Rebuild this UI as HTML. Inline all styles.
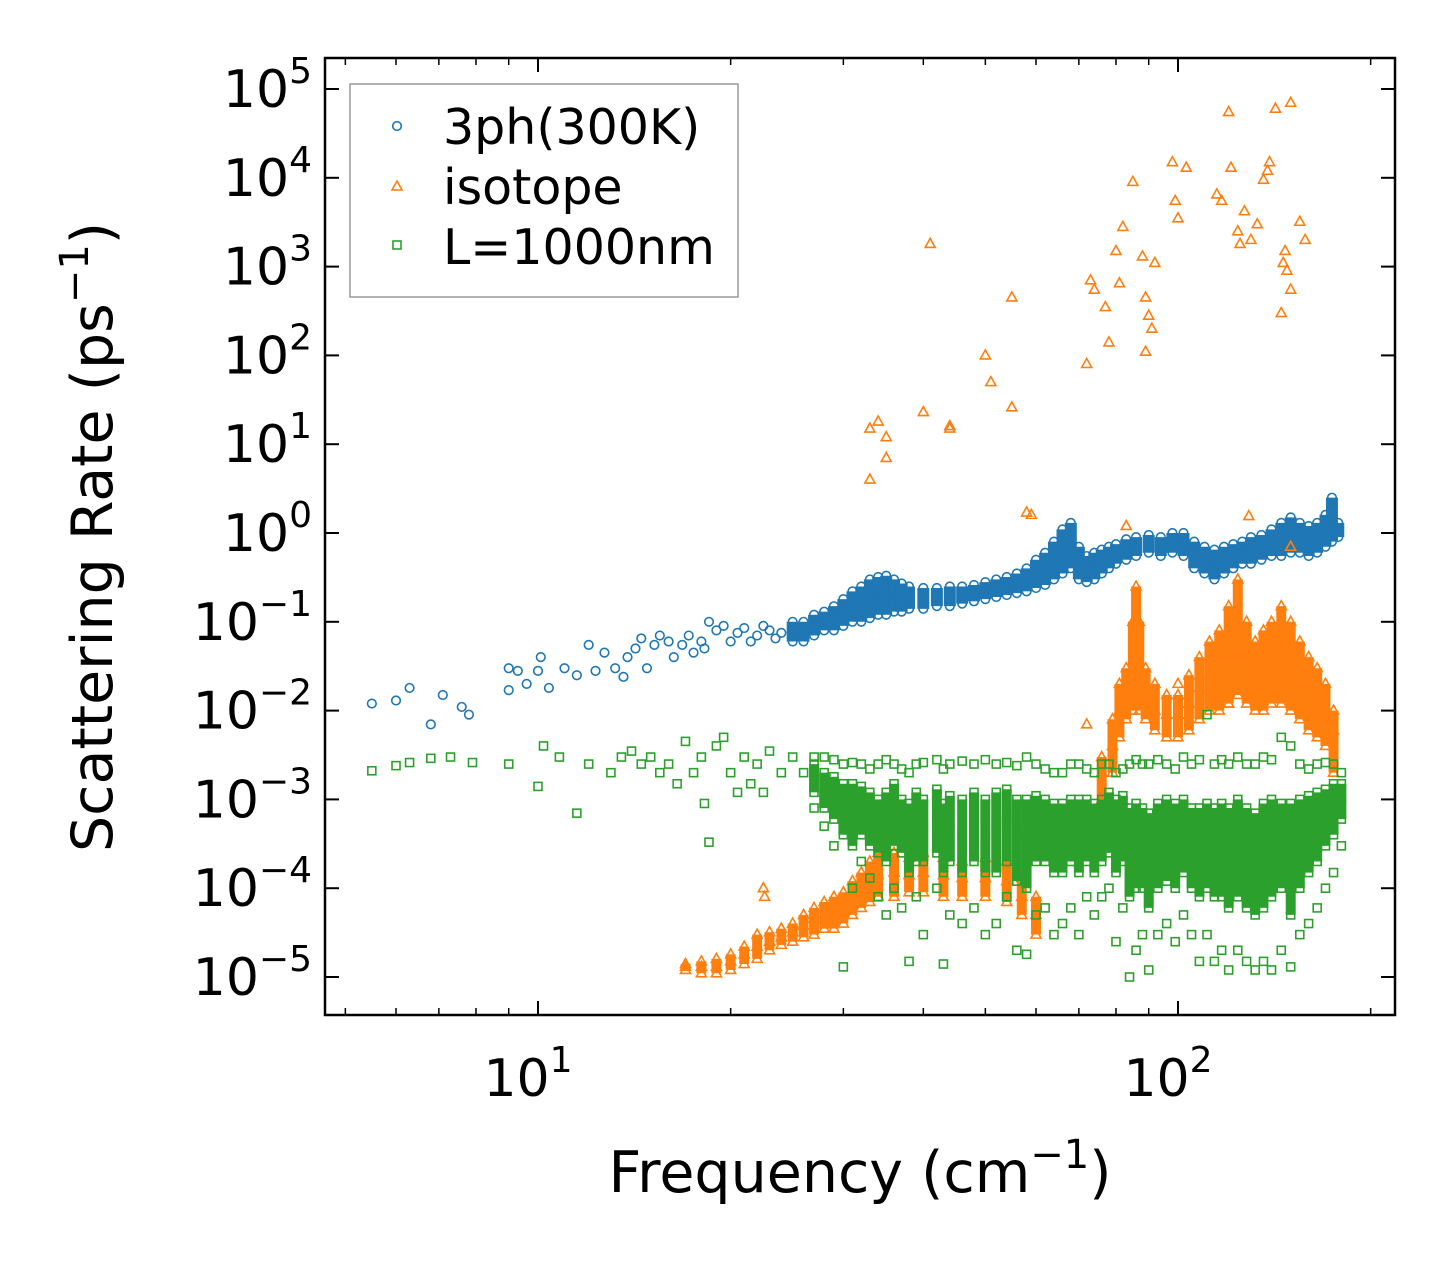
<!DOCTYPE html>
<html><head><meta charset="utf-8"><style>
html,body{margin:0;padding:0;background:#fff;}
svg text{font-family:"DejaVu Sans","Liberation Sans",sans-serif;fill:#000;}
</style></head><body>
<svg id="chart" width="1455" height="1265" viewBox="0 0 1455 1265" xmlns="http://www.w3.org/2000/svg">
<rect width="1455" height="1265" fill="#fff"/>
<g id="marks"></g>
<g id="axes"></g>
</svg>
<script>
// ---- data ----
const blueFreq = [5.5,6,6.3,6.8,7.1,7.6,7.8,9,9,9.3,9.6,10,10.1,10.4,11,11.5,12,12.3,12.7,13.2,13.6,13.8,14.2,14.5,14.8,15.2,15.5,16,16.3,16.8,17.2,17.5,18,18.2,18.5,19,19.5,20,20.5,21,21.5,22,22.5,23,23.5,24];
const blueRate = [.012,.013,.018,.007,.015,.011,.009,.03,.017,.028,.02,.028,.04,.018,.03,.025,.055,.028,.045,.03,.024,.04,.05,.065,.03,.055,.07,.06,.04,.055,.07,.045,.06,.05,.1,.08,.09,.06,.075,.085,.06,.07,.09,.08,.065,.075];
const blueBand = [[25,.06,.08,.1],[26,.06,.08,.1],[27,.07,.09,.12],[28,.08,.1,.13],[29,.08,.11,.15],[30,.09,.13,.18],[31,.1,.15,.22],[32,.1,.17,.25],[33,.11,.18,.3],[34,.12,.2,.32],[35,.12,.2,.33],[36,.13,.2,.3],[37,.13,.19,.27],[38,.14,.18,.25],[40,.14,.18,.24],[42,.15,.19,.24],[44,.15,.2,.25],[46,.16,.2,.25],[48,.17,.21,.26],[50,.18,.22,.28],[52,.19,.24,.3],[54,.2,.26,.32],[56,.21,.28,.35],[58,.22,.3,.4],[60,.24,.35,.5],[62,.26,.4,.6],[64,.3,.5,.8],[66,.35,.6,1.1],[68,.4,.7,1.3],[70,.3,.45,.7],[72,.28,.4,.55],[74,.3,.45,.6],[76,.35,.5,.65],[78,.4,.55,.7],[80,.45,.6,.75],[83,.5,.65,.85],[86,.55,.7,.9],[90,.6,.75,.95],[94,.55,.75,.9],[98,.6,.8,1.0],[102,.55,.75,1.0],[106,.4,.6,.8],[110,.35,.5,.7],[114,.3,.45,.65],[118,.35,.5,.7],[122,.4,.55,.75],[126,.45,.6,.8],[130,.45,.65,.9],[135,.5,.7,.95],[140,.55,.8,1.1],[145,.55,.9,1.3],[150,.6,1.0,1.5],[155,.6,.9,1.3],[160,.55,.8,1.2],[165,.6,.9,1.3],[170,.7,1.0,1.6],[174,.8,1.3,2.5],[178,.9,1.1,1.3]];

const orangeFreq = [33,33,34,35,35,40,41,44,44,50,51,55,55,58,59,72,73,74,77,78,80,81,82,83,85,88,89,89,90,91,92,98,99,100,103,115,117,120,121,124,125,127,130,133,136,138,139,142,145,146,147,148,150,150,155,158,129,150,72,22.5,22.6,100,120];
const orangeRate = [4,15,18,12,7,23,1800,15,16,100,50,450,26,1.7,1.6,80,700,550,350,140,1500,650,2800,1.2,9000,1300,450,110,280,200,1100,15000,5500,3500,13000,6500,5500,55000,13000,2500,1800,4200,2000,3000,9500,12000,15000,60000,300,1100,1500,900,70000,550,3200,2000,1.55,0.7,0.007,1e-4,8e-5,0.02,0.012];
const orangeBand = [[17,1.2e-5,1.3e-5,1.4e-5],[18,1.1e-5,1.3e-5,1.5e-5],[19,1.1e-5,1.3e-5,1.6e-5],[20,1.2e-5,1.5e-5,1.8e-5],[21,1.4e-5,1.8e-5,2.2e-5],[22,1.6e-5,2.2e-5,3e-5],[23,2e-5,2.5e-5,3.2e-5],[24,2.3e-5,2.8e-5,3.5e-5],[25,2.5e-5,3.2e-5,4e-5],[26,2.8e-5,3.8e-5,5e-5],[27,3e-5,4.5e-5,6e-5],[28,3.5e-5,5e-5,7e-5],[29,3.5e-5,5.5e-5,8e-5],[30,4e-5,6e-5,9e-5],[31,5e-5,8e-5,1.2e-4],[32,6e-5,1e-4,1.5e-4],[33,7e-5,1.2e-4,2e-4],[34,8e-5,1.4e-4,2.5e-4],[36,8e-5,1.5e-4,2.5e-4],[38,9e-5,1.4e-4,2.2e-4],[40,9e-5,1.5e-4,2.5e-4],[43,8e-5,1.4e-4,2.2e-4],[46,8e-5,1.3e-4,2e-4],[50,8e-5,1.3e-4,2.2e-4],[54,7e-5,1.2e-4,2e-4],[57,5e-5,8e-5,1.3e-4],[60,3e-5,5e-5,8e-5],
[76,1e-3,2e-3,3e-3],[79,2e-3,4e-3,8e-3],[81,5e-3,1e-2,2e-2],[83,8e-3,1.5e-2,3e-2],[85,1e-2,3e-2,1e-1],[86,1.5e-2,6e-2,2.5e-1],[87,1e-2,3e-2,1e-1],[89,8e-3,1.5e-2,3e-2],[92,6e-3,1e-2,2e-2],[96,5e-3,9e-3,1.5e-2],[100,5e-3,9e-3,1.5e-2],[104,6e-3,1.2e-2,2.5e-2],[108,8e-3,1.8e-2,4e-2],[112,1e-2,2.5e-2,6e-2],[116,1e-2,3e-2,8e-2],[120,1.2e-2,4e-2,1.5e-1],[124,1.5e-2,5e-2,3e-1],[128,1.2e-2,4e-2,1e-1],[132,1e-2,3e-2,6e-2],[136,1e-2,3.5e-2,8e-2],[140,1.2e-2,4e-2,1e-1],[145,1.2e-2,5e-2,1.5e-1],[150,1e-2,4e-2,1e-1],[155,8e-3,3e-2,6e-2],[160,6e-3,2e-2,4e-2],[165,5e-3,1.5e-2,3e-2],[170,4e-3,1e-2,2e-2],[175,2e-3,6e-3,1e-2]];

const greenFreq = [5.5,6,6.3,6.8,7.3,7.9,9,10.2,10,10.8,11.5,12,13,13.5,14,14.5,15,15.5,16,16.5,17,17.5,18,18.2,18.5,19,19.5,20,20.5,21,21.5,22,22.5,23,24,25,26];
const greenRate = [2.1e-3,2.4e-3,2.6e-3,2.9e-3,3e-3,2.6e-3,2.5e-3,4e-3,1.4e-3,3e-3,7e-4,2.5e-3,2e-3,3e-3,3.5e-3,2.5e-3,3e-3,2e-3,2.5e-3,1.5e-3,4.5e-3,2e-3,3e-3,9e-4,3.3e-4,4e-3,5e-3,2e-3,1.2e-3,3e-3,1.5e-3,2.5e-3,1.2e-3,3.5e-3,2e-3,3e-3,2e-3];
const greenBand = [[27,8e-4,1.2e-3,1.8e-3,2.5e-3,3e-3],[28,5e-4,8e-4,1.2e-3,2e-3,3e-3],[29,3e-4,6e-4,1e-3,1.8e-3,2.8e-3],[30,1.3e-5,4e-4,8e-4,1.5e-3,2.5e-3],[31,1e-4,3e-4,7e-4,1.5e-3,2.6e-3],[32,2e-4,4e-4,8e-4,1.4e-3,2.5e-3],[33,1.3e-4,3e-4,6e-4,1.2e-3,2.2e-3],[34,8e-5,2.5e-4,5e-4,1e-3,2.5e-3],[35,5e-5,2e-4,6e-4,1.2e-3,2.8e-3],[36,1e-4,3e-4,7e-4,1.5e-3,2.5e-3],[37,6e-5,2.5e-4,5e-4,1e-3,2.2e-3],[38,1.5e-5,1.5e-4,4e-4,9e-4,2e-3],[39,8e-5,2e-4,6e-4,1.2e-3,2.5e-3],[40,3e-5,2e-4,5e-4,1e-3,2.6e-3],[42,1e-4,2.5e-4,6e-4,1.3e-3,2.8e-3],[43,1.4e-5,1.5e-4,4e-4,9e-4,2.2e-3],[44,5e-5,2e-4,5e-4,1.1e-3,2.5e-3],[46,4e-5,1.5e-4,4e-4,1e-3,2.7e-3],[48,6e-5,2e-4,5e-4,1.2e-3,2.5e-3],[50,3e-5,1.5e-4,4e-4,1e-3,2.8e-3],[52,4e-5,1.5e-4,5e-4,1.2e-3,2.5e-3],[54,8e-5,2e-4,6e-4,1.3e-3,2.6e-3],[56,2e-5,1.2e-4,4e-4,1e-3,2.4e-3],[58,1.8e-5,1e-4,4e-4,1e-3,3e-3],[60,5e-5,2e-4,5e-4,1.1e-3,2.5e-3],[62,6e-5,2e-4,5e-4,1e-3,2.2e-3],[64,3e-5,1.5e-4,4e-4,9e-4,2e-3],[66,4e-5,1.5e-4,4e-4,9e-4,2e-3],[68,6e-5,2e-4,5e-4,1e-3,2.5e-3],[70,3e-5,1.5e-4,4e-4,1e-3,2.5e-3],[72,8e-5,2e-4,5e-4,1e-3,2.2e-3],[74,5e-5,1.5e-4,4e-4,9e-4,2e-3],[76,8e-5,2e-4,5e-4,1e-3,2.5e-3],[78,1e-4,2.5e-4,6e-4,1.2e-3,2.5e-3],[80,2.5e-5,1.5e-4,4e-4,1e-3,2e-3],[82,6e-5,2e-4,5e-4,1.1e-3,2.2e-3],[84,1e-5,8e-5,3e-4,8e-4,2.5e-3],[86,2e-5,1e-4,3e-4,9e-4,2.8e-3],[88,3e-5,1e-4,3e-4,8e-4,2.5e-3],[90,1.2e-5,6e-5,2.5e-4,7e-4,2.5e-3],[93,3e-5,1e-4,3e-4,9e-4,2.8e-3],[96,4e-5,1.2e-4,4e-4,1e-3,2.5e-3],[99,2.5e-5,1e-4,3e-4,9e-4,2.2e-3],[102,5e-5,1.5e-4,4e-4,1e-3,3e-3],[105,3e-5,1e-4,3e-4,8e-4,2.5e-3],[108,1.5e-5,8e-5,3e-4,8e-4,2.8e-3],[111,3e-5,1e-4,3e-4,9e-4,9e-3],[114,1.5e-5,8e-5,2.5e-4,8e-4,2.5e-3],[117,2e-5,8e-5,3e-4,9e-4,2.8e-3],[120,1.2e-5,6e-5,2.5e-4,8e-4,2.5e-3],[124,2e-5,8e-5,3e-4,1e-3,3e-3],[128,1.5e-5,6e-5,2.5e-4,8e-4,2.5e-3],[132,1.2e-5,5e-5,2e-4,7e-4,2.5e-3],[136,1.5e-5,6e-5,2.5e-4,9e-4,3e-3],[140,1.2e-5,8e-5,3e-4,1e-3,2.8e-3],[145,2e-5,1e-4,3e-4,9e-4,5e-3],[150,1.3e-5,5e-5,2.5e-4,9e-4,4e-3],[155,3e-5,1e-4,3e-4,1e-3,2.5e-3],[160,4e-5,1.5e-4,4e-4,1.1e-3,2.2e-3],[165,6e-5,2e-4,5e-4,1.2e-3,2.5e-3],[170,1e-4,3e-4,6e-4,1.3e-3,2.6e-3],[175,1.5e-4,4e-4,8e-4,1.5e-3,2.5e-3],[180,3e-4,6e-4,1e-3,1.5e-3,2e-3]];

const yTickExps = [-5,-4,-3,-2,-1,0,1,2,3,4,5];
const xTickExps = [1,2];
const xMinorVals = [5,6,7,8,9,20,30,40,50,60,70,80,90,200];

// ---- axes ----
const L=325,R=1395,T=58,B=1015;
const xs = v => 538 + (Math.log10(v)-1)*640;
const ys = v => 89 + (5-Math.log10(v))*88.8;
const NS="http://www.w3.org/2000/svg";
function mk(tag, attrs, parent){const e=document.createElementNS(NS,tag);for(const k in attrs)e.setAttribute(k,attrs[k]);parent.appendChild(e);return e;}
const marks=document.getElementById('marks');
const axes=document.getElementById('axes');
const C={b:'#1f77b4',o:'#ff7f0e',g:'#2ca02c'};

function circle(f,r,parent){const e=mk('circle',{cx:xs(f),cy:ys(r),r:4.3,fill:'none',stroke:C.b,'stroke-width':1.6},parent);

}
function tri(f,r,parent){const x=xs(f),y=ys(r);const e=mk('polygon',{points:`${x},${y-5.5} ${x-5},${y+3.5} ${x+5},${y+3.5}`,fill:'none',stroke:C.o,'stroke-width':1.6},parent);

}
function sq(f,r,parent){const x=xs(f),y=ys(r);const e=mk('rect',{x:x-4,y:y-4,width:8,height:8,fill:'none',stroke:C.g,'stroke-width':1.6},parent);

}
function core(f,lo,hi,color,w,parent){const e=mk('line',{x1:xs(f),x2:xs(f),y1:ys(lo),y2:ys(hi),stroke:color,'stroke-width':w},parent);

}

const gB=mk('g',{},marks);
blueFreq.forEach((f,i)=>circle(f,blueRate[i],gB));
blueBand.forEach(r=>{core(r[0],r[1],r[3],C.b,12,gB);r.slice(1).forEach(v=>circle(r[0],v,gB));});
const gO=mk('g',{},marks);
orangeFreq.forEach((f,i)=>tri(f,orangeRate[i],gO));
orangeBand.forEach(r=>{core(r[0],r[1],r[3],C.o,10,gO);r.slice(1).forEach(v=>tri(r[0],v,gO));});
const gG=mk('g',{},marks);
greenFreq.forEach((f,i)=>sq(f,greenRate[i],gG));
greenBand.forEach(r=>{core(r[0],r[2],r[4],C.g,10,gG);r.slice(1).forEach(v=>sq(r[0],v,gG));});

// frame
const fr=mk('rect',{x:L,y:T,width:R-L,height:B-T,fill:'none',stroke:'#000','stroke-width':2.5},axes);

yTickExps.forEach(e=>{const y=ys(Math.pow(10,e));
 mk('line',{x1:L,x2:L+14,y1:y,y2:y,stroke:'#000','stroke-width':2},axes);
 mk('line',{x1:R,x2:R-14,y1:y,y2:y,stroke:'#000','stroke-width':2},axes);
 const t=mk('text',{x:312,y:y+18,'text-anchor':'end','font-size':52},axes);
 
 
 t.innerHTML='10<tspan dy="-24" font-size="36">'+(e<0?'−'+(-e):e)+'</tspan>';});
xTickExps.forEach(e=>{const x=xs(Math.pow(10,e));
 mk('line',{x1:x,x2:x,y1:B,y2:B-14,stroke:'#000','stroke-width':2},axes);
 mk('line',{x1:x,x2:x,y1:T,y2:T+14,stroke:'#000','stroke-width':2},axes);
 const t=mk('text',{x:x-10,y:1096,'text-anchor':'middle','font-size':52},axes);
 
 
 t.innerHTML='10<tspan dy="-24" font-size="36">'+e+'</tspan>';});
xMinorVals.forEach(v=>{const x=xs(v);
 mk('line',{x1:x,x2:x,y1:B,y2:B-7,stroke:'#000','stroke-width':1.5},axes);
 mk('line',{x1:x,x2:x,y1:T,y2:T+7,stroke:'#000','stroke-width':1.5},axes);});
</script>
<svg style="position:absolute;left:0;top:0" width="1455" height="1265">
<text x="860" y="1192" text-anchor="middle" font-size="57" style="font-family:'DejaVu Sans','Liberation Sans',sans-serif">Frequency (cm<tspan dy="-24" font-size="40">−1</tspan><tspan dy="24">)</tspan></text>
<text transform="translate(112,537) rotate(-90)" text-anchor="middle" font-size="57" style="font-family:'DejaVu Sans','Liberation Sans',sans-serif">Scattering Rate (ps<tspan dy="-24" font-size="40">−1</tspan><tspan dy="24">)</tspan></text>
<g>
<rect x="350" y="84" width="388" height="213" fill="#fff" fill-opacity="0.8" stroke="#999" stroke-width="1.5"/>
<circle cx="397" cy="126" r="4.3" fill="none" stroke="#1f77b4" stroke-width="1.6"/>
<text x="443" y="144" font-size="49" style="font-family:'DejaVu Sans','Liberation Sans',sans-serif">3ph(300K)</text>
<polygon points="397,181 392,190 402,190" fill="none" stroke="#ff7f0e" stroke-width="1.6"/>
<text x="443" y="204" font-size="49" style="font-family:'DejaVu Sans','Liberation Sans',sans-serif">isotope</text>
<rect x="393" y="241" width="8" height="8" fill="none" stroke="#2ca02c" stroke-width="1.6"/>
<text x="443" y="264" font-size="49" style="font-family:'DejaVu Sans','Liberation Sans',sans-serif">L=1000nm</text>
</g>
</svg>
</body></html>
